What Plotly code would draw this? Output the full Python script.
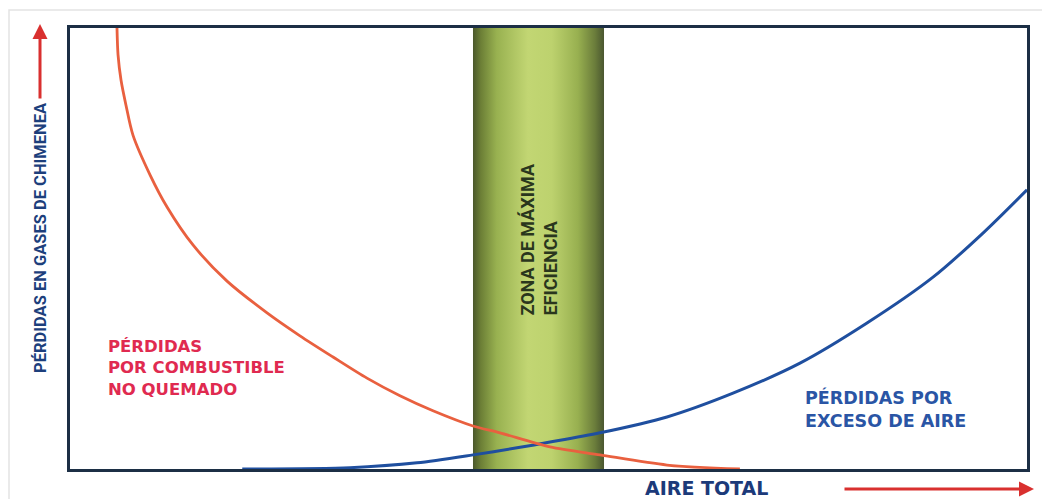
import plotly.graph_objects as go

# Curve: pérdidas por combustible no quemado (x = aire total %, y = pérdidas %)
red_x = [4.91, 5.02, 5.33, 5.85, 6.58, 8.36, 10.14, 12.85, 16.41, 20.59, 24.03, 27.48, 31.03,
         34.48, 37.93, 42.11, 44.93, 50.16, 55.38, 62.38, 70.0]
red_y = [100.0, 93.9, 88.2, 82.5, 75.7, 66.7, 59.4, 50.8, 42.6, 35.4, 30.2, 25.4, 20.6,
         16.6, 13.2, 9.75, 8.2, 5.0, 3.2, 0.9, 0.0]

# Curve: pérdidas por exceso de aire
blue_x = [18.0, 29.26, 36.26, 42.11, 46.71, 50.16, 55.38, 62.38, 69.28, 76.28, 83.28, 90.18, 95.4, 100.0]
blue_y = [0.0, 0.3, 1.4, 3.2, 4.8, 6.1, 8.2, 11.8, 17.2, 24.0, 33.1, 43.5, 53.5, 63.3]

# Zona de máxima eficiencia
zone_x = [42.11, 55.8]
zone_y = [0.0, 100.0]

zone_label = "ZONA DE MÁXIMA<br>EFICIENCIA"
red_label = "PÉRDIDAS<br>POR COMBUSTIBLE<br>NO QUEMADO"
blue_label = "PÉRDIDAS POR<br>EXCESO DE AIRE"
y_title = "PÉRDIDAS EN GASES DE CHIMENEA"
x_title = "AIRE TOTAL"

NAVY = "#1c2f45"
NARROW = "Roboto, Liberation Sans Narrow, sans-serif"
WIDE = "DejaVu Sans, sans-serif"

# pixel helpers for the layout (plot box: x 70..1027, y 28..469)
L, R, T, B = 70, 1027, 28, 469
def px_to_xd(px):
    return (px - L) / (R - L) * 100
def py_to_yd(py):
    return (B - py) / (B - T) * 100
def px_to_xp(px):
    return (px - L) / (R - L)
def py_to_yp(py):
    return (B - py) / (B - T)

fig = go.Figure()

fig.add_trace(go.Scatter(
    x=[zone_x[0], zone_x[1], zone_x[1], zone_x[0], zone_x[0]],
    y=[zone_y[0], zone_y[0], zone_y[1], zone_y[1], zone_y[0]],
    mode="lines", line=dict(width=0), fill="toself",
    fillgradient=dict(type="horizontal", colorscale=[
        [0.0, "#4b582b"], [0.06, "#6c7f36"], [0.18, "#98b150"], [0.42, "#c2d673"],
        [0.6, "#bdd26e"], [0.8, "#98b050"], [0.93, "#6b7d3b"], [1.0, "#4a5730"]]),
    hoverinfo="skip", showlegend=False))

fig.add_trace(go.Scatter(x=blue_x, y=blue_y, mode="lines",
                         line=dict(color="#1f4f9f", width=3, shape="spline", smoothing=0.8),
                         showlegend=False))
fig.add_trace(go.Scatter(x=red_x, y=red_y, mode="lines",
                         line=dict(color="#e9603f", width=2.8, shape="spline", smoothing=0.8),
                         showlegend=False))

ann = []
ann.append(dict(x=sum(zone_x) / 2, y=py_to_yd(240), xref="x", yref="y", text=zone_label, showarrow=False,
                textangle=-90, align="left", xanchor="center", yanchor="middle",
                font=dict(family=NARROW, size=18, color="#2a361d", weight="bold")))
ann.append(dict(x=px_to_xd(106), y=py_to_yd(368), xref="x", yref="y",
                text=red_label, showarrow=False, xanchor="left", yanchor="middle", align="left",
                font=dict(family=WIDE, size=16.5, color="#e02a50", weight="bold")))
ann.append(dict(x=px_to_xd(803), y=py_to_yd(409), xref="x", yref="y",
                text=blue_label, showarrow=False, xanchor="left", yanchor="middle", align="left",
                font=dict(family=WIDE, size=17.5, color="#2a55a5", weight="bold")))
ann.append(dict(x=px_to_xp(40), y=py_to_yp(238), xref="paper", yref="paper", text=y_title,
                showarrow=False, textangle=-90, xanchor="center", yanchor="middle",
                font=dict(family=NARROW, size=16.5, color="#1d3f7c", weight="bold")))
ann.append(dict(x=px_to_xp(706), y=py_to_yp(488), xref="paper", yref="paper", text=x_title,
                showarrow=False, xanchor="center", yanchor="middle",
                font=dict(family=WIDE, size=19, color="#1c3a7a", weight="bold")))
# arrows
ann.append(dict(x=px_to_xp(40), y=py_to_yp(24), xref="paper", yref="paper", text="", showarrow=True,
                ax=0, ay=76, arrowhead=2, arrowsize=1, arrowwidth=3, arrowcolor="#d9302f"))
ann.append(dict(x=px_to_xp(1034), y=py_to_yp(489), xref="paper", yref="paper", text="", showarrow=True,
                ax=-191, ay=0, arrowhead=2, arrowsize=1, arrowwidth=3, arrowcolor="#d9302f"))

fig.update_layout(
    width=1042, height=499,
    margin=dict(l=L, r=1042 - R, t=T, b=499 - B),
    paper_bgcolor="white", plot_bgcolor="white",
    annotations=ann,
    shapes=[dict(type="rect", xref="paper", yref="paper", x0=px_to_xp(9), x1=px_to_xp(1050),
                 y0=py_to_yp(510), y1=py_to_yp(10), line=dict(color="#e3e3e3", width=1.5),
                 layer="below")],
)
fig.update_xaxes(range=[0, 100], showgrid=False, zeroline=False, showticklabels=False, ticks="",
                 showline=True, mirror=True, linecolor=NAVY, linewidth=3)
fig.update_yaxes(range=[0, 100], showgrid=False, zeroline=False, showticklabels=False, ticks="",
                 showline=True, mirror=True, linecolor=NAVY, linewidth=3)

fig.write_html("out.html", config={"displayModeBar": False},
               post_script="document.body.style.margin='0px';document.body.style.overflow='hidden';")
